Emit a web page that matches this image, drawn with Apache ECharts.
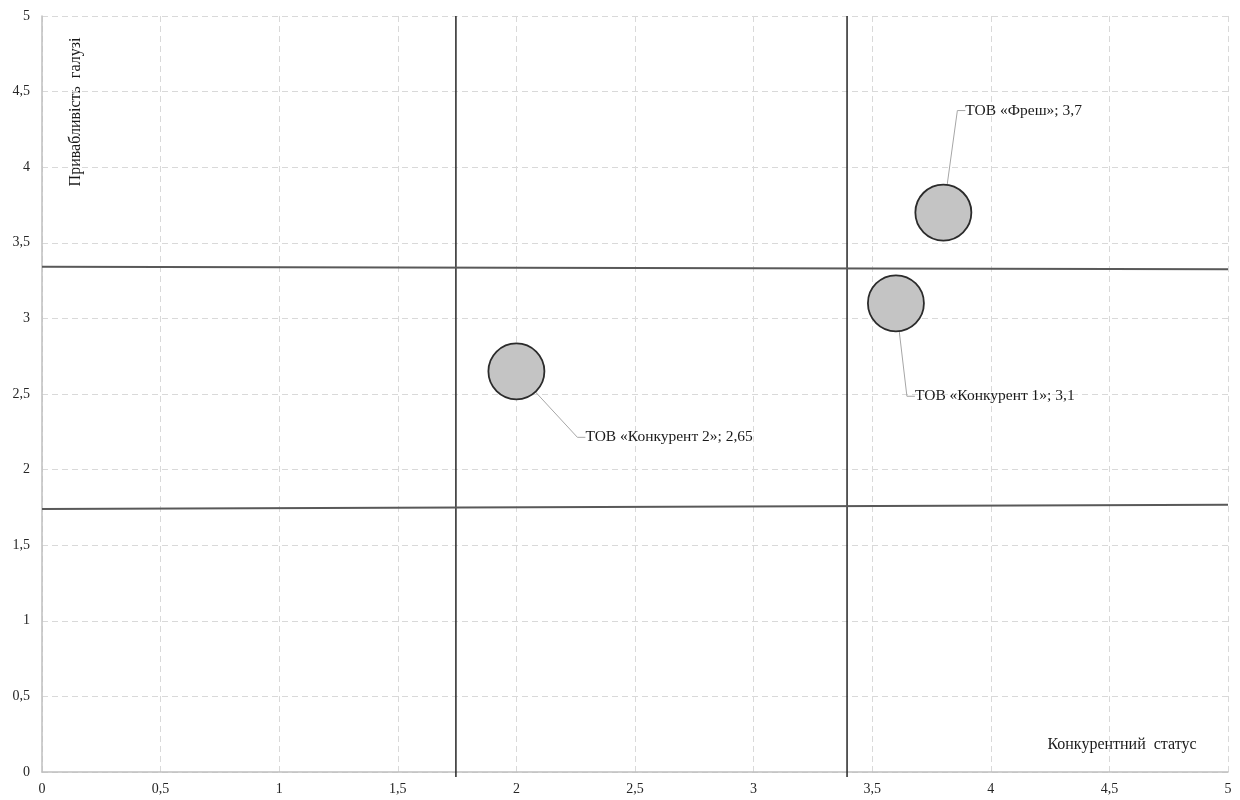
<!DOCTYPE html>
<html>
<head>
<meta charset="utf-8">
<script src="https://cdn.jsdelivr.net/npm/echarts@6/dist/echarts.min.js"></script>
<style>html,body{margin:0;padding:0;background:#fff}#c{width:1240px;height:800px}</style>
</head>
<body>
<div id="c"></div>
<script>
// Data
const companies = ['ТОВ «Фреш»', 'ТОВ «Конкурент 1»', 'ТОВ «Конкурент 2»'];
const competitiveStatus = [3.8, 3.6, 2.0];
const industryAttractiveness = [3.7, 3.1, 2.65];
const labelValues = ['3,7', '3,1', '2,65'];
const xTicks = [0, 0.5, 1, 1.5, 2, 2.5, 3, 3.5, 4, 4.5, 5];
const yTicks = [0, 0.5, 1, 1.5, 2, 2.5, 3, 3.5, 4, 4.5, 5];
// quadrant boundary lines
const verticalBoundaryX = [1.745, 3.394];
const boundaryEndsX = [0, 5];
const upperBoundaryY = [3.342, 3.325];
const lowerBoundaryY = [1.740, 1.768];
const verticalSpanY = [-0.033, 5];

const FONT = '"Liberation Serif", "DejaVu Serif", serif';
const chart = echarts.init(document.getElementById('c'));

const fmt = v => String(v).replace('.', ',');

// label offsets (pixels) for leader-line annotations
const labelOffsets = [
  {dx: 22, dy: -102},
  {dx: 19, dy: 93},
  {dx: 69, dy: 66}
];

const bubbleData = companies.map((n, i) => ({
  name: n,
  value: [competitiveStatus[i], industryAttractiveness[i]],
  label: {formatter: n + '; ' + labelValues[i]}
}));

const series = [];
verticalBoundaryX.forEach(x => {
  series.push({
    type: 'line', data: verticalSpanY.map(y => [x, y]), symbol: 'none', clip: false,
    lineStyle: {color: '#262626', width: 1.5}, silent: true, z: 3
  });
});
[upperBoundaryY, lowerBoundaryY].forEach(arr => {
  series.push({
    type: 'line', data: boundaryEndsX.map((x, i) => [x, arr[i]]), symbol: 'none',
    lineStyle: {color: '#595959', width: 2}, silent: true, z: 3
  });
});
series.push({
  type: 'scatter',
  data: bubbleData,
  symbolSize: 56,
  z: 5,
  itemStyle: {color: '#c4c4c4', borderColor: '#2b2b2b', borderWidth: 1.8, opacity: 1},
  label: {
    show: true, position: 'inside', align: 'left', verticalAlign: 'middle',
    fontFamily: FONT, fontSize: 15.5, color: '#1a1a1a'
  },
  labelLine: {show: true, length2: 8, lineStyle: {color: '#a6a6a6', width: 1}},
  labelLayout: function (p) {
    const o = labelOffsets[p.dataIndex];
    return {dx: o.dx, dy: o.dy};
  }
});

chart.setOption({
  animation: false,
  grid: {left: 42, right: 12, top: 16, bottom: 28, containLabel: false},
  xAxis: {
    type: 'value', min: 0, max: 5, interval: 0.5,
    axisLine: {show: true, lineStyle: {color: '#bfbfbf', width: 1.5}},
    axisTick: {show: false},
    axisLabel: {fontFamily: FONT, fontSize: 14, color: '#262626', margin: 10,
      formatter: v => xTicks.includes(v) ? fmt(v) : ''},
    splitLine: {show: true, lineStyle: {color: '#d9d9d9', type: [6, 4]}}
  },
  yAxis: {
    type: 'value', min: 0, max: 5, interval: 0.5,
    axisLine: {show: true, lineStyle: {color: '#bfbfbf', width: 1.5}},
    axisTick: {show: false},
    axisLabel: {fontFamily: FONT, fontSize: 14, color: '#262626', margin: 12,
      formatter: v => yTicks.includes(v) ? fmt(v) : ''},
    splitLine: {show: true, lineStyle: {color: '#d9d9d9', type: [6, 4]}}
  },
  graphic: [
    {type: 'text', x: 76, y: 112, rotation: Math.PI / 2,
      style: {text: 'Привабливість  галузі', font: '16px ' + FONT, fill: '#1a1a1a',
        textAlign: 'center', textVerticalAlign: 'middle'}},
    {type: 'text', x: 1122, y: 745,
      style: {text: 'Конкурентний  статус', font: '16px ' + FONT, fill: '#1a1a1a',
        textAlign: 'center', textVerticalAlign: 'middle'}}
  ],
  series: series
});
</script>
</body>
</html>
